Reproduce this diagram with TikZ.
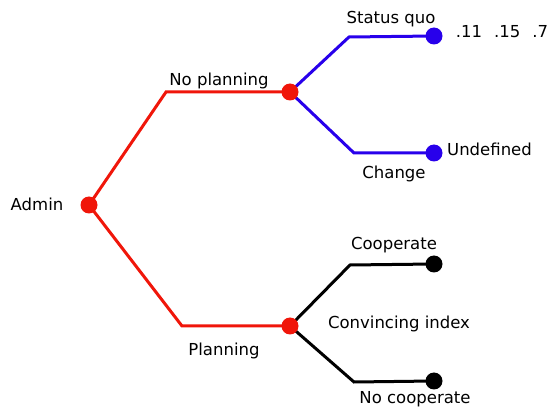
\documentclass[tikz,border=0pt]{standalone}
\usepackage{fontspec}
\setmainfont{DejaVu Sans}
\definecolor{treered}{RGB}{240,22,10}
\definecolor{treeblue}{RGB}{40,0,235}
\begin{document}
\begin{tikzpicture}[x=1pt,y=-1pt,
    font=\fontsize{16.5}{20}\selectfont,
    dot/.style={circle,fill=#1,minimum size=17pt,inner sep=0pt},
    branch/.style={line width=3pt,#1},
    lbl/.style={anchor=base,inner sep=0pt}]
    \useasboundingbox (0,0) rectangle (550,409);
    %rami (gomiti)
    \coordinate (k1) at (166,92);
    \coordinate (k2) at (182,326);
    \coordinate (k3) at (349,37);
    \coordinate (k4) at (354,153);
    \coordinate (k5) at (350,265);
    \coordinate (k6) at (354,382);
    \coordinate (admin) at (89,205);
    \coordinate (noplan) at (290,92);
    \coordinate (plan) at (290,326);
    \coordinate (statusquo) at (434,36);
    \coordinate (change) at (434,153);
    \coordinate (coop) at (434,264);
    \coordinate (nocoop) at (434,381);
    %rami
    \draw[branch=treered] (admin) -- (k1) -- (noplan);
    \draw[branch=treered] (admin) -- (k2) -- (plan);
    \draw[branch=treeblue] (noplan) -- (k3) -- (statusquo);
    \draw[branch=treeblue] (noplan) -- (k4) -- (change);
    \draw[branch=black] (plan) -- (k5) -- (coop);
    \draw[branch=black] (plan) -- (k6) -- (nocoop);
    %nodi
    \node[dot=treered] (admindot) at (admin) {};
    \node[dot=treered] (noplandot) at (noplan) {};
    \node[dot=treered] (plandot) at (plan) {};
    \node[dot=treeblue] (statusquodot) at (statusquo) {};
    \node[dot=treeblue] (changedot) at (change) {};
    \node[dot=black] (coopdot) at (coop) {};
    \node[dot=black] (nocoopdot) at (nocoop) {};
    %etichette
    \node[lbl] at (37,211) {Admin};
    \node[lbl] at (219,86) {No planning};
    \node[lbl] at (224,356) {Planning};
    \node[lbl] at (391,24) {Status quo};
    \node[lbl] at (502,38) {.11\hspace{12pt}.15\hspace{12pt}.7};
    \node[lbl,anchor=base west] at (447,156) {Undefined};
    \node[lbl] at (394,179) {Change};
    \node[lbl] at (394,250) {Cooperate};
    \node[lbl] at (399,329) {Convincing index};
    \node[lbl] at (415,404) {No cooperate};
\end{tikzpicture}
\end{document}
